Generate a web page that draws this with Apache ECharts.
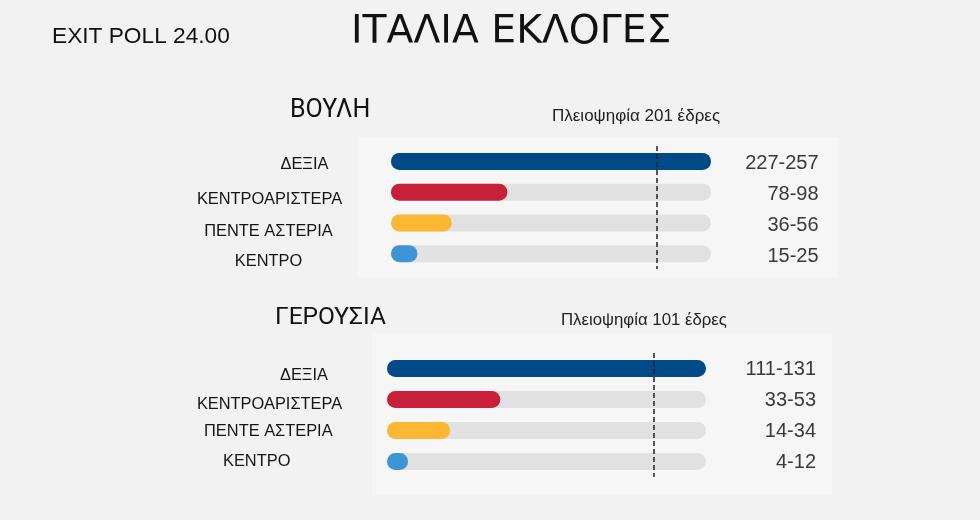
<!DOCTYPE html>
<html>
<head>
<meta charset="utf-8">
<script src="https://cdn.jsdelivr.net/npm/echarts@6/dist/echarts.min.js"></script>
<style>
html,body{margin:0;padding:0;background:#f2f2f2;}
#chart{width:980px;height:520px;}
</style>
</head>
<body>
<div id="chart"></div>
<script>
// ---- data ----
const categories = ['ΔΕΞΙΑ', 'ΚΕΝΤΡΟΑΡΙΣΤΕΡΑ', 'ΠΕΝΤΕ ΑΣΤΕΡΙΑ', 'ΚΕΝΤΡΟ'];
const houseValues = [242, 88, 46, 20];
const houseRanges = ['227-257', '78-98', '36-56', '15-25'];
const houseMajority = 201;
const senateValues = [121, 43, 24, 8];
const senateRanges = ['111-131', '33-53', '14-34', '4-12'];
const senateMajority = 101;
const partyColors = ['#004b87', '#c8203a', '#fdb833', '#3e95d5'];

// ---- layout (label nudges: [dx, dy]) ----
const houseNudge = [[36, 3.5], [1, 7], [0, 8.5], [0, 8]];
const senateNudge = [[35, 6.5], [0.5, 4.5], [-0.7, 0.5], [-12.3, -0.5]];

function richFor(nudges) {
  const r = {};
  nudges.forEach(function (n, i) {
    const dx = n[0], dy = n[1];
    r['l' + i] = {
      fontFamily: 'Liberation Sans', fontSize: 16.4, color: '#151515',
      padding: [dy > 0 ? 2 * dy : 0, dx < 0 ? -2 * dx : 0, dy < 0 ? -2 * dy : 0, dx > 0 ? 2 * dx : 0]
    };
  });
  return r;
}

function barSeries(idx, values, majority) {
  return {
    type: 'bar',
    xAxisIndex: idx, yAxisIndex: idx * 2,
    barWidth: 17,
    showBackground: true,
    backgroundStyle: { color: '#e1e1e1', borderRadius: 8.5 },
    itemStyle: { borderRadius: 8.5 },
    data: values.map(function (v, i) { return { value: v, itemStyle: { color: partyColors[i] } }; }),
    markLine: {
      silent: true, symbol: 'none', label: { show: false },
      lineStyle: { type: [5, 3], color: '#222', width: 1.5 },
      data: [{ xAxis: majority }]
    },
    z: 3
  };
}

function catAxis(grid, margin, nudges) {
  return {
    gridIndex: grid, type: 'category', data: categories, inverse: true,
    axisLine: { show: false }, axisTick: { show: false }, splitLine: { show: false },
    axisLabel: {
      margin: margin, align: 'center',
      formatter: function (v, i) { return '{l' + i + '|' + v + '}'; },
      rich: richFor(nudges)
    }
  };
}

function rangeAxis(grid, ranges, margin, dy) {
  return {
    gridIndex: grid, type: 'category', data: ranges, inverse: true, position: 'right',
    axisLine: { show: false }, axisTick: { show: false }, splitLine: { show: false },
    axisLabel: {
      margin: margin, align: 'right',
      formatter: function (v) { return '{v|' + v + '}'; },
      rich: { v: { fontFamily: 'Liberation Sans', fontSize: 20, color: '#3a3a3a', padding: [2 * dy, 0, 0, 0] } }
    }
  };
}

const chart = echarts.init(document.getElementById('chart'), null, { renderer: 'canvas' });
chart.setOption({
  backgroundColor: '#f2f2f2',
  animation: false,
  graphic: [
    { type: 'rect', shape: { x: 358, y: 137, width: 480, height: 140 }, style: { fill: '#f6f6f6' }, z: -10 },
    { type: 'rect', shape: { x: 372, y: 333, width: 460, height: 162 }, style: { fill: '#f6f6f6' }, z: -10 }
  ],
  title: [
    { text: 'ΙΤΑΛΙΑ ΕΚΛΟΓΕΣ', left: 351, top: 13.5, padding: 0, textStyle: { fontFamily: 'DejaVu Sans', fontSize: 39.3, fontWeight: 'normal', color: '#111' } },
    { text: 'EXIT POLL 24.00', left: 52, top: 25, padding: 0, textStyle: { fontFamily: 'Liberation Sans', fontSize: 22.7, fontWeight: 'normal', color: '#111' } },
    { text: 'ΒΟΥΛΗ', left: 290, top: 98, padding: 0, textStyle: { fontFamily: 'Roboto', fontSize: 25, fontWeight: 'normal', color: '#111' } },
    { text: 'ΓΕΡΟΥΣΙΑ', left: 275, top: 305, padding: 0, textStyle: { fontFamily: 'Roboto', fontSize: 24.5, fontWeight: 'normal', color: '#111' } },
    { text: 'Πλειοψηφία ' + houseMajority + ' έδρες', left: 552, top: 108, padding: 0, textStyle: { fontFamily: 'Liberation Sans', fontSize: 17, fontWeight: 'normal', color: '#222' } },
    { text: 'Πλειοψηφία ' + senateMajority + ' έδρες', left: 561, top: 312, padding: 0, textStyle: { fontFamily: 'Liberation Sans', fontSize: 16.8, fontWeight: 'normal', color: '#222' } }
  ],
  grid: [
    { left: 391, top: 146, width: 320, height: 123 },
    { left: 387, top: 353, width: 319, height: 124 }
  ],
  xAxis: [
    { gridIndex: 0, type: 'value', min: 0, max: Math.max.apply(null, houseValues), show: false },
    { gridIndex: 1, type: 'value', min: 0, max: Math.max.apply(null, senateValues), show: false }
  ],
  yAxis: [
    catAxis(0, 122.5, houseNudge),
    rangeAxis(0, houseRanges, 107.6, 2.5),
    catAxis(1, 118, senateNudge),
    rangeAxis(1, senateRanges, 110, 1)
  ],
  series: [
    barSeries(0, houseValues, houseMajority),
    barSeries(1, senateValues, senateMajority)
  ]
});
</script>
</body>
</html>
